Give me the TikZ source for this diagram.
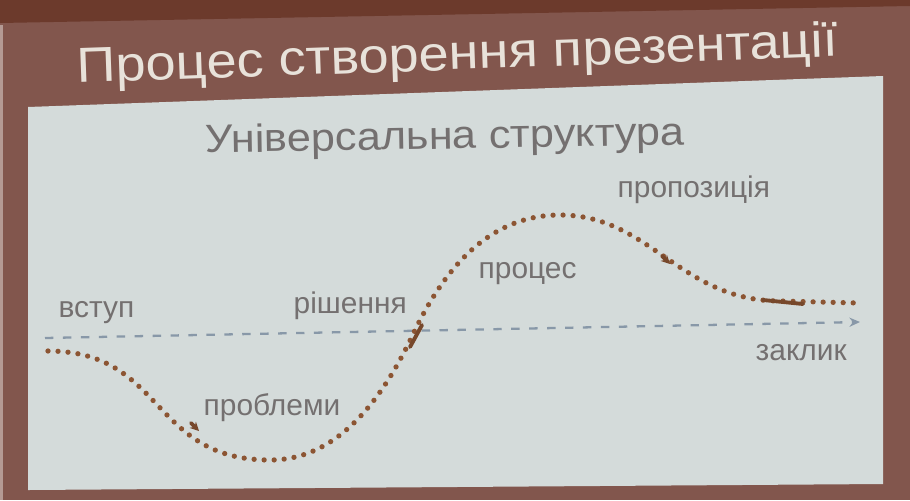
\documentclass[tikz,border=0pt]{standalone}
\usepackage{fontspec}
\setmainfont{Liberation Sans}
\newfontfamily\widefont[FakeStretch=1.1]{Liberation Sans}
\usetikzlibrary{arrows.meta}

\definecolor{bandbrown}{HTML}{6C3A2C}
\definecolor{slidebrown}{HTML}{82564D}
\definecolor{panelgray}{HTML}{D4DBDA}
\definecolor{titlewhite}{HTML}{E8E2DA}
\definecolor{textgray}{HTML}{747070}
\definecolor{dotbrown}{HTML}{8C5533}
\definecolor{dashblue}{HTML}{8898A8}

\tikzset{
  stage/.style={text=textgray, inner sep=0pt, font=\fontsize{8.5}{10}\selectfont},
  path dots/.style={dotbrown, line width=1.5pt, line cap=round,
    dash pattern=on 0pt off 2.85pt},
  marker/.style={dotbrown!85!black, line width=1.1pt, line cap=round},
}

\begin{document}
\begin{tikzpicture}[x=0.01cm, y=-0.01cm]

  \useasboundingbox (0,0) rectangle (910,500);

  % background of the slide
  \fill[slidebrown] (0,0) rectangle (910,500);
  \fill[bandbrown] (0,0) -- (910,0) -- (910,6) -- (0,23) -- cycle;
  \fill[slidebrown!60!white] (0,25) rectangle (3,500);
  \fill[panelgray] (28,107) -- (883,76) -- (883,484) -- (28,490) -- cycle;

  % titles
  \node[anchor=base west, inner sep=0pt, text=titlewhite, rotate=2,
        font=\widefont\fontsize{14}{16}\selectfont] (title) at (77,83)
        {Процес створення презентації};
  \node[anchor=base west, inner sep=0pt, text=textgray, rotate=1,
        font=\widefont\fontsize{11.2}{13}\selectfont] (subtitle) at (205,153)
        {Універсальна структура};

  % time axis
  \coordinate (axisstart) at (45,338);
  \coordinate (axisend) at (860,322);
  \draw[dashblue, line width=0.65pt, dash pattern=on 2.4pt off 2.7pt,
        -{Stealth[length=3pt, width=2.6pt]}] (axisstart) -- (axisend);

  % the story line
  \coordinate (start) at (48,351);
  \coordinate (low)   at (270,460);
  \coordinate (turn)  at (415,330);
  \coordinate (high)  at (560,215);
  \coordinate (calm)  at (780,301);
  \coordinate (stop)  at (858,303);
  \draw[path dots] (start) .. controls (165,351) and (150,460) .. (low)
    .. controls (340,460) and (385,395) .. (turn)
    .. controls (442,275) and (485,215) .. (high)
    .. controls (650,215) and (680,301) .. (calm) -- (stop);

  % marks on the line
  \draw[marker, -{Stealth[length=2.5pt, width=2.5pt]}] (191,423) -- (199,431);
  \draw[marker] (410,347) -- (422,325);
  \draw[marker, -{Stealth[length=2.5pt, width=2.5pt]}] (662,256) -- (670,264);
  \draw[marker] (763,300) -- (803,304);

  % stages
  \node[stage, anchor=base west] (vstup)   at (58,317)  {вступ};
  \node[stage, anchor=base west] (problem) at (203,415) {проблеми};
  \node[stage, anchor=base west] (rishen)  at (293,313) {рішення};
  \node[stage, anchor=base west] (proces)  at (478,278) {процес};
  \node[stage, anchor=base west] (propoz)  at (617,197) {пропозиція};
  \node[stage, anchor=base west] (zaklyk)  at (755,360) {заклик};

\end{tikzpicture}
\end{document}
